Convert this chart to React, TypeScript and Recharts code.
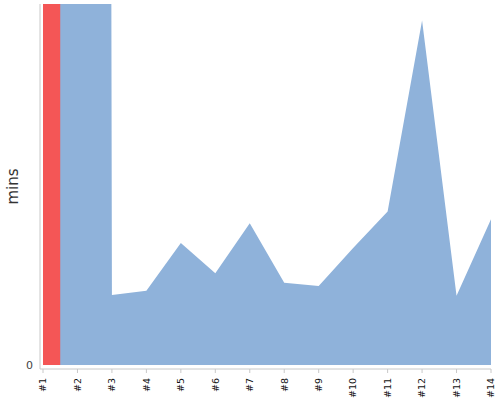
import { AreaChart, Area, XAxis, YAxis, ReferenceArea } from 'recharts'

const runs = [1, 2, 3, 4, 5, 6, 7, 8, 9, 10, 11, 12, 13, 14]
const mins = [5000, 5000, 19.4, 20.6, 33.8, 25.4, 39.3, 22.8, 21.9, 32.4, 42.5, 95.4, 19.2, 40.4]
const yTicks = [0]
const highlightRun = 1

const data = runs.map((r, i) => ({ run: r, mins: mins[i] }))

function RunTick({ x, y, payload }: any) {
  return (
    <g transform={`translate(${x},${y + 3})`}>
      <text transform="rotate(-90)" textAnchor="end" dy="0.35em" fontSize={9.5} fill="#111" fontFamily="DejaVu Sans">
        {`#${payload.value}`}
      </text>
    </g>
  )
}

export default function App() {
  return (
    <div style={{ width: 500, height: 400 }}>
      <style>{`body { margin: 0; }`}</style>
      <AreaChart width={500} height={400} data={data} margin={{ top: 4, right: 9, left: 0, bottom: 0 }}>
        <XAxis
          dataKey="run"
          type="number"
          domain={[1, 14]}
          ticks={runs}
          height={31}
          padding={{ left: 3, right: 0 }}
          stroke="#c8c8c8"
          tickSize={4}
          tick={<RunTick />}
        />
        <YAxis
          width={40}
          domain={[-1.1, 100]}
          ticks={yTicks}
          allowDataOverflow
          stroke="#c8c8c8"
          tickLine={false}
          tickSize={5}
          tick={{ fill: '#444', fontSize: 11, fontFamily: 'DejaVu Sans' }}
          label={{ value: 'mins', angle: -90, position: 'insideLeft', offset: 13, style: { textAnchor: 'middle', fill: '#333', fontSize: 15, fontFamily: 'DejaVu Sans' } }}
        />
        <Area type="linear" dataKey="mins" stroke="none" fill="#8fb2da" fillOpacity={1} baseValue={0} isAnimationActive={false} />
        <ReferenceArea x1={highlightRun} x2={highlightRun + 0.5} y1={0} y2={100} fill="#f45656" fillOpacity={1} stroke="none" ifOverflow="hidden" />
      </AreaChart>
    </div>
  )
}
